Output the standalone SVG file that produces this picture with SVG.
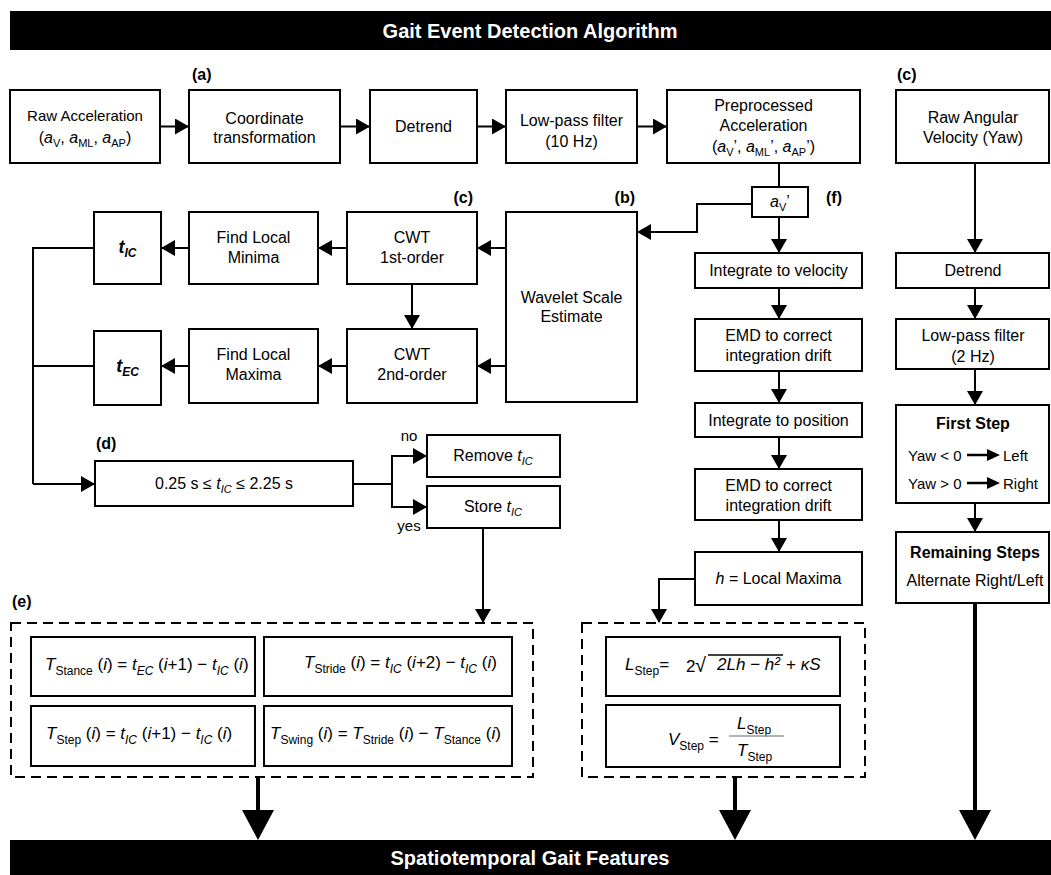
<svg xmlns="http://www.w3.org/2000/svg" width="1051" height="875" viewBox="0 0 1051 875">
<style>
.box{fill:#fff;stroke:#000;stroke-width:2}
.dash{fill:none;stroke:#000;stroke-width:2;stroke-dasharray:10 6}
.ln{fill:none;stroke:#000;stroke-width:2}
.thk{fill:none;stroke:#000;stroke-width:4}
.t{font-family:"Liberation Sans",Arial,sans-serif;font-size:16px;text-anchor:middle;fill:#000}
.st{font-family:"Liberation Sans",Arial,sans-serif;font-size:17px;fill:#000}
.b{font-weight:bold}
.lbl{font-family:"Liberation Sans",Arial,sans-serif;font-size:16px;font-weight:bold;fill:#000}
.bar{font-family:"Liberation Sans",Arial,sans-serif;font-size:20px;font-weight:bold;fill:#fff;text-anchor:middle}
.i{font-style:italic}
.s{font-size:11px}
.s2{font-size:12px}
</style>
<defs>
<marker id="ah" markerUnits="userSpaceOnUse" markerWidth="14" markerHeight="16" refX="13" refY="8" orient="auto">
<path d="M0,0 L14,8 L0,16 z" fill="#000"/>
</marker>
</defs>

<g id="title">
<rect x="10" y="11" width="1041" height="39" fill="#000"/>
<text class="bar" x="530" y="38">Gait Event Detection Algorithm</text>
</g>
<g id="footer">
<rect x="10" y="840" width="1041" height="35" fill="#000"/>
<text class="bar" x="530" y="865">Spatiotemporal Gait Features</text>
</g>

<g id="labels">
<text class="lbl" x="192" y="80">(a)</text>
<text class="lbl" x="897" y="80">(c)</text>
<text class="lbl" x="473" y="203" text-anchor="end">(c)</text>
<text class="lbl" x="635" y="203" text-anchor="end">(b)</text>
<text class="lbl" x="826" y="203">(f)</text>
<text class="lbl" x="96" y="449">(d)</text>
<text class="lbl" x="12" y="607">(e)</text>
</g>

<g id="raw-acc">
<rect class="box" x="10" y="90" width="150" height="73"/>
<text class="t" x="85" y="121" style="font-size:15px">Raw Acceleration</text>
<text class="t" x="85" y="143">(<tspan class="i">a</tspan><tspan class="s" dy="4">V</tspan><tspan dy="-4">, </tspan><tspan class="i">a</tspan><tspan class="s" dy="4">ML</tspan><tspan dy="-4">, </tspan><tspan class="i">a</tspan><tspan class="s" dy="4">AP</tspan><tspan dy="-4">)</tspan></text>
</g>
<g id="coord">
<rect class="box" x="189" y="90" width="151" height="73"/>
<text class="t" x="264.5" y="124">Coordinate</text>
<text class="t" x="264.5" y="143">transformation</text>
</g>
<g id="detrend1">
<rect class="box" x="370" y="90" width="107" height="73"/>
<text class="t" x="423.5" y="132">Detrend</text>
</g>
<g id="lpf10">
<rect class="box" x="506" y="90" width="131" height="73"/>
<text class="t" x="571.5" y="126">Low-pass filter</text>
<text class="t" x="571.5" y="147">(10 Hz)</text>
</g>
<g id="preproc">
<rect class="box" x="667" y="90" width="193" height="73"/>
<text class="t" x="763.5" y="111">Preprocessed</text>
<text class="t" x="763.5" y="131">Acceleration</text>
<text class="t" x="763.5" y="152">(<tspan class="i">a</tspan><tspan class="s" dy="4">V</tspan><tspan dy="-4">’, </tspan><tspan class="i">a</tspan><tspan class="s" dy="4">ML</tspan><tspan dy="-4">’, </tspan><tspan class="i">a</tspan><tspan class="s" dy="4">AP</tspan><tspan dy="-4">’)</tspan></text>
</g>
<g id="raw-gyro">
<rect class="box" x="896" y="90" width="153" height="73"/>
<text class="t" x="973" y="123">Raw Angular</text>
<text class="t" x="973" y="143">Velocity (Yaw)</text>
</g>

<g id="av">
<rect class="box" x="752" y="187" width="56" height="30"/>
<text class="t" x="780" y="207"><tspan class="i">a</tspan><tspan class="s" dy="4">V</tspan><tspan dy="-4">’</tspan></text>
</g>

<g id="tic">
<rect class="box" x="94" y="212" width="67" height="72"/>
<text class="t b i" x="127.5" y="253" style="font-size:18px">t<tspan class="s2" dy="4">IC</tspan></text>
</g>
<g id="flmin">
<rect class="box" x="189" y="212" width="129" height="72"/>
<text class="t" x="253.5" y="243">Find Local</text>
<text class="t" x="253.5" y="263">Minima</text>
</g>
<g id="cwt1">
<rect class="box" x="347" y="212" width="130" height="72"/>
<text class="t" x="412" y="243">CWT</text>
<text class="t" x="412" y="263">1st-order</text>
</g>
<g id="wavelet">
<rect class="box" x="506" y="212" width="131" height="190"/>
<text class="t" x="571.5" y="303">Wavelet Scale</text>
<text class="t" x="571.5" y="322">Estimate</text>
</g>
<g id="tec">
<rect class="box" x="94" y="331" width="67" height="74"/>
<text class="t b i" x="127.5" y="372" style="font-size:18px">t<tspan class="s2" dy="4">EC</tspan></text>
</g>
<g id="flmax">
<rect class="box" x="189" y="329" width="129" height="74"/>
<text class="t" x="253.5" y="360">Find Local</text>
<text class="t" x="253.5" y="380">Maxima</text>
</g>
<g id="cwt2">
<rect class="box" x="347" y="329" width="130" height="74"/>
<text class="t" x="412" y="360">CWT</text>
<text class="t" x="412" y="380">2nd-order</text>
</g>

<g id="cond">
<rect class="box" x="95" y="461" width="258" height="45"/>
<text class="t" x="224" y="489">0.25 s ≤ <tspan class="i">t</tspan><tspan class="s i" dy="4">IC</tspan><tspan dy="-4"> ≤ 2.25 s</tspan></text>
</g>
<g id="remove">
<rect class="box" x="427" y="435" width="133" height="42"/>
<text class="t" x="493" y="461">Remove <tspan class="i">t</tspan><tspan class="s i" dy="4">IC</tspan></text>
</g>
<g id="store">
<rect class="box" x="427" y="486" width="133" height="42"/>
<text class="t" x="493" y="512">Store <tspan class="i">t</tspan><tspan class="s i" dy="4">IC</tspan></text>
</g>
<text class="t" x="409" y="441" style="font-size:15px">no</text>
<text class="t" x="409" y="531" style="font-size:15px">yes</text>

<g id="intvel">
<rect class="box" x="695" y="253" width="167" height="35"/>
<text class="t" x="778.5" y="276">Integrate to velocity</text>
</g>
<g id="emd1">
<rect class="box" x="695" y="319" width="167" height="52"/>
<text class="t" x="778.5" y="341">EMD to correct</text>
<text class="t" x="778.5" y="361">integration drift</text>
</g>
<g id="intpos">
<rect class="box" x="695" y="403" width="167" height="34"/>
<text class="t" x="778.5" y="426">Integrate to position</text>
</g>
<g id="emd2">
<rect class="box" x="695" y="469" width="167" height="51"/>
<text class="t" x="778.5" y="491">EMD to correct</text>
<text class="t" x="778.5" y="511">integration drift</text>
</g>
<g id="hmax">
<rect class="box" x="695" y="552" width="167" height="53"/>
<text class="t" x="778.5" y="584"><tspan class="i">h</tspan> = Local Maxima</text>
</g>

<g id="detrend2">
<rect class="box" x="896" y="253" width="153" height="35"/>
<text class="t" x="973" y="276">Detrend</text>
</g>
<g id="lpf2">
<rect class="box" x="896" y="319" width="153" height="50"/>
<text class="t" x="973" y="341">Low-pass filter</text>
<text class="t" x="973" y="362">(2 Hz)</text>
</g>
<g id="firststep">
<rect class="box" x="896" y="405" width="153" height="98"/>
<text class="t b" x="973" y="429">First Step</text>
<text class="st" x="908" y="461" style="font-size:15px">Yaw &lt; 0</text>
<text class="st" x="1003" y="461" style="font-size:15px">Left</text>
<text class="st" x="908" y="489" style="font-size:15px">Yaw &gt; 0</text>
<text class="st" x="1003" y="489" style="font-size:15px">Right</text>
<path d="M967,455 H990 M967,483 H990" stroke="#000" stroke-width="2.5"/>
<path d="M987,449 L1000,455 L987,461 z M987,477 L1000,483 L987,489 z" fill="#000"/>
</g>
<g id="remaining">
<rect class="box" x="896" y="532" width="153" height="71"/>
<text class="t b" x="975" y="558">Remaining Steps</text>
<text class="t" x="975" y="586">Alternate Right/Left</text>
</g>

<g id="temporal">
<rect class="dash" x="11" y="623" width="522" height="154"/>
<rect class="box" x="31" y="637" width="224" height="59"/>
<rect class="box" x="264" y="637" width="248" height="59"/>
<rect class="box" x="31" y="706" width="224" height="60"/>
<rect class="box" x="264" y="706" width="248" height="60"/>
<text class="st" x="45" y="670"><tspan class="i">T</tspan><tspan class="s2" dy="5">Stance</tspan><tspan dy="-5"> (</tspan><tspan class="i">i</tspan>) = <tspan class="i">t</tspan><tspan class="s2 i" dy="5">EC</tspan><tspan dy="-5"> (</tspan><tspan class="i">i</tspan>+1) − <tspan class="i">t</tspan><tspan class="s2 i" dy="5">IC</tspan><tspan dy="-5"> (</tspan><tspan class="i">i</tspan>)</text>
<text class="st" x="304" y="668"><tspan class="i">T</tspan><tspan class="s2" dy="5">Stride</tspan><tspan dy="-5"> (</tspan><tspan class="i">i</tspan>) = <tspan class="i">t</tspan><tspan class="s2 i" dy="5">IC</tspan><tspan dy="-5"> (</tspan><tspan class="i">i</tspan>+2) − <tspan class="i">t</tspan><tspan class="s2 i" dy="5">IC</tspan><tspan dy="-5"> (</tspan><tspan class="i">i</tspan>)</text>
<text class="st" x="46" y="739"><tspan class="i">T</tspan><tspan class="s2" dy="5">Step</tspan><tspan dy="-5"> (</tspan><tspan class="i">i</tspan>) = <tspan class="i">t</tspan><tspan class="s2 i" dy="5">IC</tspan><tspan dy="-5"> (</tspan><tspan class="i">i</tspan>+1) − <tspan class="i">t</tspan><tspan class="s2 i" dy="5">IC</tspan><tspan dy="-5"> (</tspan><tspan class="i">i</tspan>)</text>
<text class="st" x="270" y="739"><tspan class="i">T</tspan><tspan class="s2" dy="5">Swing</tspan><tspan dy="-5"> (</tspan><tspan class="i">i</tspan>) = <tspan class="i">T</tspan><tspan class="s2" dy="5">Stride</tspan><tspan dy="-5"> (</tspan><tspan class="i">i</tspan>) − <tspan class="i">T</tspan><tspan class="s2" dy="5">Stance</tspan><tspan dy="-5"> (</tspan><tspan class="i">i</tspan>)</text>
</g>

<g id="spatial">
<rect class="dash" x="582" y="623" width="283" height="154"/>
<rect class="box" x="606" y="637" width="234" height="59"/>
<rect class="box" x="606" y="705" width="234" height="62"/>
<text class="st" x="625" y="670"><tspan class="i">L</tspan><tspan class="s2" dy="5">Step</tspan><tspan dy="-5">=</tspan></text>
<text class="st" x="686" y="672">2</text>
<text class="st" x="695" y="672" style="font-size:20px">√</text>
<line x1="708" y1="655" x2="783" y2="655" stroke="#000" stroke-width="1.5"/>
<text class="st i" x="717" y="670">2Lh − h²</text>
<text class="st" x="786" y="670">+ <tspan class="i">κS</tspan></text>
<text class="st" x="668" y="745"><tspan class="i">V</tspan><tspan class="s2" dy="5">Step</tspan><tspan dy="-5"> =</tspan></text>
<text class="st" x="737" y="729"><tspan class="i">L</tspan><tspan class="s2" dy="5">Step</tspan></text>
<line x1="729" y1="736" x2="784" y2="736" stroke="#999" stroke-width="1.5"/>
<text class="st" x="737" y="756"><tspan class="i">T</tspan><tspan class="s2" dy="5">Step</tspan></text>
</g>

<g id="connectors">
<path class="ln" marker-end="url(#ah)" d="M160,126.5 H188"/>
<path class="ln" marker-end="url(#ah)" d="M340,126.5 H369"/>
<path class="ln" marker-end="url(#ah)" d="M477,126.5 H505"/>
<path class="ln" marker-end="url(#ah)" d="M637,126.5 H666"/>
<path class="ln" d="M779,163 V187"/>
<path class="ln" marker-end="url(#ah)" d="M752,204 H697 V232 H638"/>
<path class="ln" marker-end="url(#ah)" d="M779,217 V252"/>
<path class="ln" marker-end="url(#ah)" d="M779,288 V318"/>
<path class="ln" marker-end="url(#ah)" d="M779,371 V402"/>
<path class="ln" marker-end="url(#ah)" d="M779,437 V468"/>
<path class="ln" marker-end="url(#ah)" d="M779,520 V551"/>
<path class="ln" marker-end="url(#ah)" d="M695,579 H659 V622"/>
<path class="ln" marker-end="url(#ah)" d="M506,248 H478"/>
<path class="ln" marker-end="url(#ah)" d="M347,248 H319"/>
<path class="ln" marker-end="url(#ah)" d="M189,248 H162"/>
<path class="ln" marker-end="url(#ah)" d="M506,366 H478"/>
<path class="ln" marker-end="url(#ah)" d="M347,366 H319"/>
<path class="ln" marker-end="url(#ah)" d="M189,366 H162"/>
<path class="ln" marker-end="url(#ah)" d="M412,284 V328"/>
<path class="ln" d="M94,248 H33 V484 M94,366 H33"/>
<path class="ln" marker-end="url(#ah)" d="M33,484 H94"/>
<path class="ln" d="M353,484 H392 M392,456 V507"/>
<path class="ln" marker-end="url(#ah)" d="M391,456 H426"/>
<path class="ln" marker-end="url(#ah)" d="M391,507 H426"/>
<path class="ln" marker-end="url(#ah)" d="M483,528 V622"/>
<path class="ln" marker-end="url(#ah)" d="M975,163 V252"/>
<path class="ln" marker-end="url(#ah)" d="M975,288 V318"/>
<path class="ln" marker-end="url(#ah)" d="M975,369 V404"/>
<path class="ln" marker-end="url(#ah)" d="M975,503 V531"/>
<path class="thk" d="M975,603 V812 M258,777 V812 M735,777 V812"/>
<path d="M959,810 L991,810 L975,840 z M242,810 L274,810 L258,840 z M719,810 L751,810 L735,840 z" fill="#000"/>
</g>
</svg>
